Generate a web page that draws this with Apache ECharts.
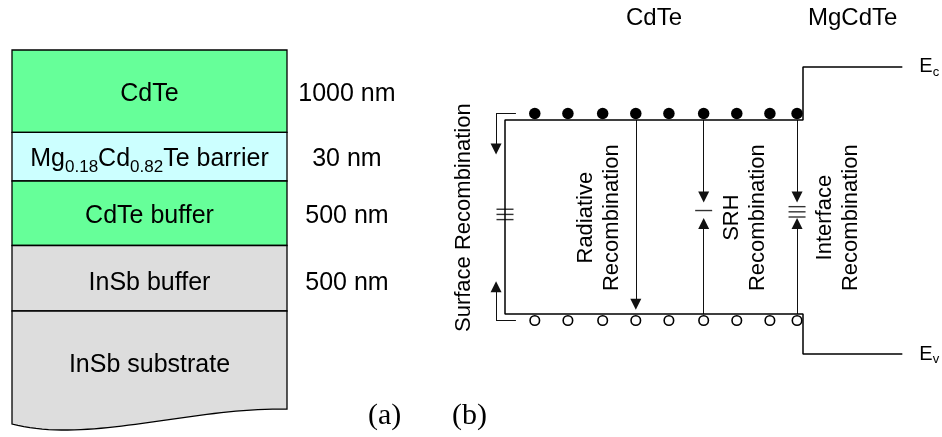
<!DOCTYPE html>
<html>
<head>
<meta charset="utf-8">
<script src="https://cdn.jsdelivr.net/npm/echarts@6/dist/echarts.min.js"></script>
<style>
  html, body { margin: 0; padding: 0; background: #fff; }
  #chart { width: 942px; height: 437px; }
</style>
</head>
<body>
<div id="chart"></div>
<script>
// ---------- (a) sample layer stack ----------
const layerNames = ['CdTe', 'Mg0.18Cd0.82Te barrier', 'CdTe buffer', 'InSb buffer', 'InSb substrate'];
const layerThickness = ['1000 nm', '30 nm', '500 nm', '500 nm', ''];
const layerMaterial = ['CdTe', 'MgCdTe', 'CdTe', 'InSb', 'InSb'];

// ---------- (b) band diagram ----------
const regionNames = ['CdTe', 'MgCdTe'];
const regionBounds = [[0, 9], [9, 12]];      // position along growth direction (arb. units)
const bandEc = [1.5, 1.91];                  // conduction band edge (eV)
const bandEv = [0, -0.31];                   // valence band edge (eV)
const bandLabels = ['c', 'v'];
const carrierSites = [0.9, 1.9, 2.95, 3.95, 4.95, 6, 7, 8, 8.82];
const trapSurface = [0.81, 0.77, 0.73];
const trapSRH = [0.80];
const trapInterface = [0.83, 0.79, 0.75];
const processNames = ['Surface Recombination', 'Radiative\nRecombination', 'SRH\nRecombination', 'Interface\nRecombination'];
const processSites = [0, 3.95, 6, 8.82];
const radiativeEnd = 0.075;                  // arrow from Ec down to the hole (head centre)
const captureEnds = [0.905, 0.70];           // electron / hole capture arrows end near the trap
const surfaceArrowX = -0.27;
const surfaceArrowFrom = [0.33, 0.33];
const surfaceArrowLevels = [[1.55, 1.275], [-0.052, 0.21]];

// ---------- layout ----------
const FONT = '"Liberation Sans", Arial, Helvetica, sans-serif';
const materialColor = { CdTe: '#66FF99', MgCdTe: '#CCFFFF', InSb: '#DDDDDD' };
const rowEdges = [0, 83, 132, 197, 263];      // stack rows (schematic units, not to scale)
const rowLabelY = [44.5, 110, 167, 234.5, 318];
const substrateBottom = [[0, 377], [0.284, 397], [0.647, 360], [1, 362]];
const thicknessX = 1.218;

const pxX = 298 / 9, pxE = 194 / 1.5;
const xRange = [-2.5, 13], eRange = [-0.6, 2.4];
const originX = 505, originY = 314;
const labelOffsets = [-41, -37, 41.5, 40.5];  // horizontal shift of the rotated captions (px)
const labelLevel = 0.745;
const regionLabelLevel = 2.289;

function bezier(pts, t) {
  const u = 1 - t;
  const c = [u * u * u, 3 * u * u * t, 3 * u * t * t, t * t * t];
  return [0, 1].map(k => c[0] * pts[0][k] + c[1] * pts[1][k] + c[2] * pts[2][k] + c[3] * pts[3][k]);
}

function richName(name) {
  return name.replace(/(\d\.\d+)/g, '{s|$1}');
}

const chart = echarts.init(document.getElementById('chart'), null, { renderer: 'canvas' });

const bandLine = [
  [regionBounds[1][1], bandEc[1]], [regionBounds[1][0], bandEc[1]],
  [regionBounds[0][1], bandEc[0]], [regionBounds[0][0], bandEc[0]],
  [regionBounds[0][0], bandEv[0]], [regionBounds[0][1], bandEv[0]],
  [regionBounds[1][0], bandEv[1]], [regionBounds[1][1], bandEv[1]]
];

const arrowStyle = { color: '#111', width: 1, opacity: 1, curveness: 0 };
const arrowData = [];
// surface recombination: L-shaped arrows along the free surface
surfaceArrowLevels.forEach((lv, i) => {
  arrowData.push({ coords: [[surfaceArrowFrom[i], lv[0]], [surfaceArrowX, lv[0]]], symbol: ['none', 'none'] });
  arrowData.push({ coords: [[surfaceArrowX, lv[0]], [surfaceArrowX, lv[1]]], symbol: ['none', 'triangle'] });
});
// radiative recombination
arrowData.push({ coords: [[processSites[1], bandEc[0]], [processSites[1], radiativeEnd]], symbol: ['none', 'triangle'] });
// SRH and interface recombination: capture of electron and hole
[processSites[2], processSites[3]].forEach(x => {
  arrowData.push({ coords: [[x, bandEc[0]], [x, captureEnds[0]]], symbol: ['none', 'triangle'] });
  arrowData.push({ coords: [[x, bandEv[0]], [x, captureEnds[1]]], symbol: ['none', 'triangle'] });
});

const trapData = []
  .concat(trapSurface.map(e => [processSites[0], e]))
  .concat(trapSRH.map(e => [processSites[2], e]))
  .concat(trapInterface.map(e => [processSites[3], e]));

// text items of panel (b): [x, E, text, rotated, dx]
const captionData = []
  .concat(processNames.map((n, i) => [processSites[i], labelLevel, n, 1, labelOffsets[i]]))
  .concat(regionNames.map((n, i) => [(regionBounds[i][0] + regionBounds[i][1]) / 2, regionLabelLevel, n, 0, 0]));

const option = {
  animation: false,
  backgroundColor: '#fff',
  title: [
    { text: '(a)', left: 368, top: 401, padding: 0,
      textStyle: { fontFamily: '"Liberation Serif", "Times New Roman", serif', fontSize: 30, fontWeight: 'normal', color: '#000' } },
    { text: '(b)', left: 452, top: 401, padding: 0,
      textStyle: { fontFamily: '"Liberation Serif", "Times New Roman", serif', fontSize: 30, fontWeight: 'normal', color: '#000' } }
  ],
  grid: [
    { left: 12, top: 50, width: 275, height: 390 },
    { left: originX + xRange[0] * pxX, width: (xRange[1] - xRange[0]) * pxX,
      top: originY - eRange[1] * pxE, height: (eRange[1] - eRange[0]) * pxE }
  ],
  xAxis: [
    { type: 'value', gridIndex: 0, min: 0, max: 1, show: false },
    { type: 'value', gridIndex: 1, min: xRange[0], max: xRange[1], show: false }
  ],
  yAxis: [
    { type: 'value', gridIndex: 0, min: 0, max: 390, inverse: true, show: false },
    { type: 'value', gridIndex: 1, min: eRange[0], max: eRange[1], show: false }
  ],
  series: [
    {
      type: 'custom',
      name: 'layers',
      xAxisIndex: 0, yAxisIndex: 0,
      data: layerNames.map((n, i) => [i]),
      clip: false,
      silent: true,
      renderItem(params, api) {
        const i = params.dataIndex;
        const last = layerNames.length - 1;
        const fill = materialColor[layerMaterial[i]];
        const stroke = { stroke: '#000', lineWidth: 1.3, fill };
        let body;
        if (i < last) {
          const a = api.coord([0, rowEdges[i]]);
          const b = api.coord([1, rowEdges[i + 1]]);
          body = { type: 'rect', shape: { x: a[0], y: a[1], width: b[0] - a[0], height: b[1] - a[1] }, style: stroke };
        } else {
          const pts = [api.coord([0, rowEdges[i]]), api.coord([1, rowEdges[i]])];
          for (let k = 40; k >= 0; k--) pts.push(api.coord(bezier(substrateBottom, k / 40)));
          body = { type: 'polygon', shape: { points: pts }, style: stroke };
        }
        const c = api.coord([0.5, rowLabelY[i]]);
        const t = api.coord([thicknessX, rowLabelY[i]]);
        const children = [
          body,
          { type: 'text', x: c[0], y: c[1], style: {
              text: richName(layerNames[i]), fill: '#000', fontSize: 25, fontFamily: FONT,
              align: 'center', verticalAlign: 'middle',
              rich: { s: { fontSize: 17, fontFamily: FONT, fill: '#000', verticalAlign: 'bottom', padding: [16, 0, 0, 0] } } } }
        ];
        if (layerThickness[i]) {
          children.push({ type: 'text', x: t[0], y: t[1], style: {
            text: layerThickness[i], fill: '#000', fontSize: 25, fontFamily: FONT,
            align: 'center', verticalAlign: 'middle' } });
        }
        return { type: 'group', children };
      }
    },
    {
      type: 'line',
      name: 'band edges',
      xAxisIndex: 1, yAxisIndex: 1,
      data: bandLine,
      symbol: 'none',
      clip: false,
      silent: true,
      lineStyle: { color: '#000', width: 1.5 }
    },
    {
      type: 'scatter',
      name: 'electrons',
      xAxisIndex: 1, yAxisIndex: 1,
      data: carrierSites.map(x => [x, bandEc[0]]),
      symbol: 'circle', symbolSize: 11.5, symbolOffset: [0, -6.5],
      clip: false, silent: true,
      itemStyle: { color: '#000', opacity: 1 }
    },
    {
      type: 'scatter',
      name: 'holes',
      xAxisIndex: 1, yAxisIndex: 1,
      data: carrierSites.map(x => [x, bandEv[0]]),
      symbol: 'circle', symbolSize: 9.5, symbolOffset: [0, 6.5],
      clip: false, silent: true,
      itemStyle: { color: '#fff', borderColor: '#000', borderWidth: 1.6, opacity: 1 }
    },
    {
      type: 'lines',
      name: 'transitions',
      coordinateSystem: 'cartesian2d',
      xAxisIndex: 1, yAxisIndex: 1,
      data: arrowData,
      symbolSize: 11,
      silent: true,
      clip: false,
      lineStyle: arrowStyle
    },
    {
      type: 'scatter',
      name: 'traps',
      xAxisIndex: 1, yAxisIndex: 1,
      data: trapData,
      symbol: 'rect', symbolSize: [17, 1.4],
      clip: false, silent: true,
      itemStyle: { color: '#333', opacity: 1 }
    },
    {
      type: 'custom',
      name: 'captions',
      xAxisIndex: 1, yAxisIndex: 1,
      data: captionData,
      clip: false, silent: true,
      renderItem(params, api) {
        const d = captionData[params.dataIndex];
        const p = api.coord([d[0], d[1]]);
        return {
          type: 'text', x: p[0] + d[4], y: p[1], rotation: d[3] ? Math.PI / 2 : 0,
          style: {
            text: d[2], fill: '#000', fontFamily: FONT,
            fontSize: d[3] ? 22 : 24, lineHeight: 26,
            align: 'center', verticalAlign: 'middle'
          }
        };
      }
    },
    {
      type: 'custom',
      name: 'band labels',
      xAxisIndex: 1, yAxisIndex: 1,
      data: bandLabels.map((s, i) => [regionBounds[1][1], i === 0 ? bandEc[1] : bandEv[1]]),
      clip: false, silent: true,
      renderItem(params, api) {
        const i = params.dataIndex;
        const p = api.coord([api.value(0), api.value(1)]);
        return {
          type: 'text', x: p[0] + 17, y: p[1],
          style: {
            text: '{e|E}{s|' + bandLabels[i] + '}', fill: '#000', align: 'left', verticalAlign: 'middle',
            rich: {
              e: { fontSize: 20, fontFamily: FONT, fill: '#000' },
              s: { fontSize: 13, fontFamily: FONT, fill: '#000', verticalAlign: 'bottom', padding: [10, 0, 0, 0] }
            }
          }
        };
      }
    }
  ]
};

chart.setOption(option);
</script>
</body>
</html>
